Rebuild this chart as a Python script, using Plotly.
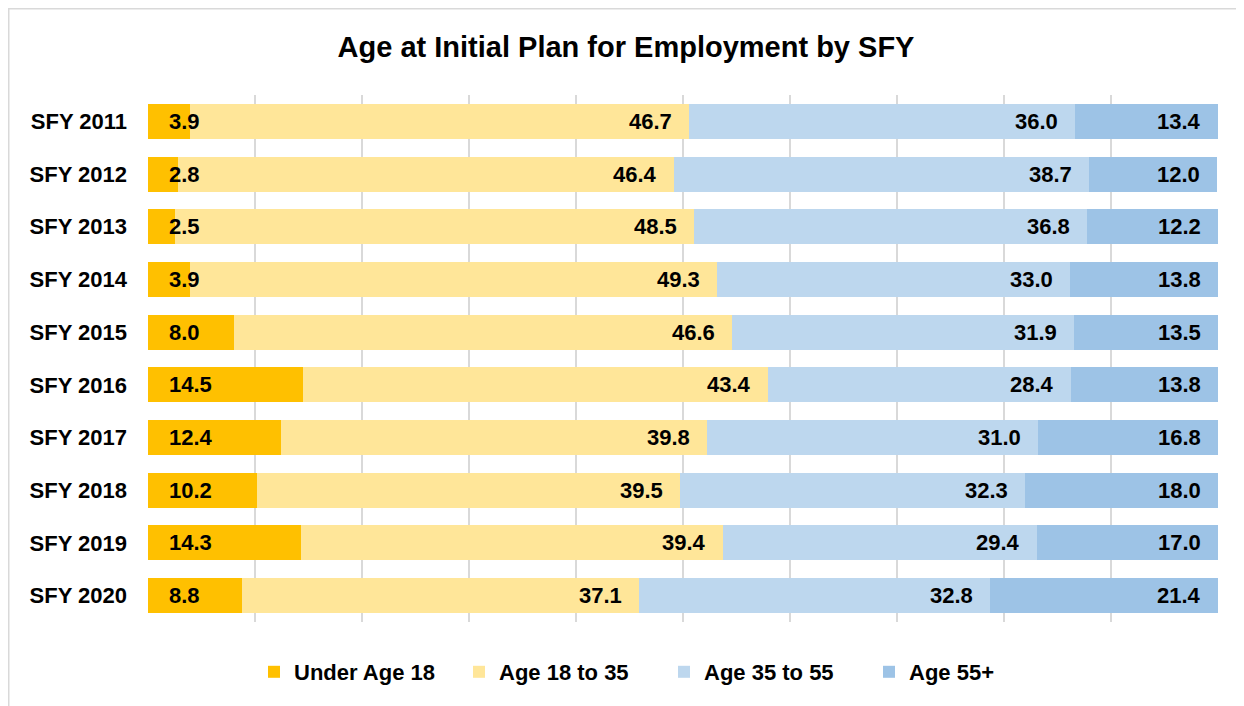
import plotly.graph_objects as go

# Datos
years = ["SFY 2011", "SFY 2012", "SFY 2013", "SFY 2014", "SFY 2015",
         "SFY 2016", "SFY 2017", "SFY 2018", "SFY 2019", "SFY 2020"]
under_18 = [3.9, 2.8, 2.5, 3.9, 8.0, 14.5, 12.4, 10.2, 14.3, 8.8]
age_18_35 = [46.7, 46.4, 48.5, 49.3, 46.6, 43.4, 39.8, 39.5, 39.4, 37.1]
age_35_55 = [36.0, 38.7, 36.8, 33.0, 31.9, 28.4, 31.0, 32.3, 29.4, 32.8]
age_55 = [13.4, 12.0, 12.2, 13.8, 13.5, 13.8, 16.8, 18.0, 17.0, 21.4]

series = [
    ("Under Age 18", under_18, "#FFC000"),
    ("Age 18 to 35", age_18_35, "#FFE699"),
    ("Age 35 to 55", age_35_55, "#BDD7EE"),
    ("Age 55+", age_55, "#9DC3E6"),
]

FONT = "Liberation Sans"
W, H = 1236, 698  # la página añade 8px de margen

fig = go.Figure()
for name, vals, color in series:
    fig.add_trace(go.Bar(
        y=years, x=vals, name=name, orientation="h",
        marker=dict(color=color, line=dict(width=0)),
        hovertemplate="%{y}: %{x:.1f}<extra>" + name + "</extra>",
    ))

# Etiquetas de datos
label_font = dict(family=FONT, size=22, color="black", weight="bold")
annotations = []
for i, yr in enumerate(years):
    # primera serie: anclada a la base
    annotations.append(dict(
        x=0, y=yr, xref="x", yref="y", text=f"{under_18[i]:.1f}",
        showarrow=False, xanchor="left", xshift=19, font=label_font,
    ))
    cum = under_18[i]
    for _, vals, _ in series[1:]:
        cum += vals[i]
        annotations.append(dict(
            x=min(round(cum, 1), 100), y=yr, xref="x", yref="y",
            text=f"{vals[i]:.1f}", showarrow=False,
            xanchor="right", xshift=-15, font=label_font,
        ))

L, T, R, B = 140, 87, 26, 84
pw, ph = W - L - R, H - T - B

fig.update_layout(
    barmode="stack",
    bargap=0.335,
    width=W, height=H,
    margin=dict(l=L, r=R, t=T, b=B),
    paper_bgcolor="white",
    plot_bgcolor="white",
    font=dict(family=FONT, color="black"),
    title=dict(
        text="Age at Initial Plan for Employment by SFY",
        x=618 / W, xref="container", xanchor="center",
        y=1 - 39 / H, yref="container", yanchor="middle",
        font=dict(family=FONT, size=29, color="black", weight="bold"),
    ),
    legend=dict(
        orientation="h",
        x=656 / W, xref="container", xanchor="center",
        y=1 - 664 / H, yref="container", yanchor="middle",
        font=dict(family=FONT, size=22, color="black", weight="bold"),
        itemwidth=30, entrywidth=160, traceorder="normal",
    ),
    annotations=annotations,
    shapes=[dict(
        type="rect", xref="paper", yref="paper",
        x0=(0.75 - L) / pw, x1=1.1, y0=-0.3, y1=(H - B - 0.75) / ph,
        line=dict(color="#D9D9D9", width=1.5), layer="below",
    )],
)

fig.update_xaxes(
    range=[0, 100], dtick=10, showticklabels=False,
    showgrid=True, gridcolor="#D9D9D9", gridwidth=1.5,
    zeroline=False, showline=False, fixedrange=True,
)
fig.update_yaxes(
    autorange="reversed", showgrid=False, showline=False,
    tickfont=dict(family=FONT, size=22, color="black", weight="bold"),
    ticklabelstandoff=20, ticks="", fixedrange=True,
)

fig.write_html("out.html")
